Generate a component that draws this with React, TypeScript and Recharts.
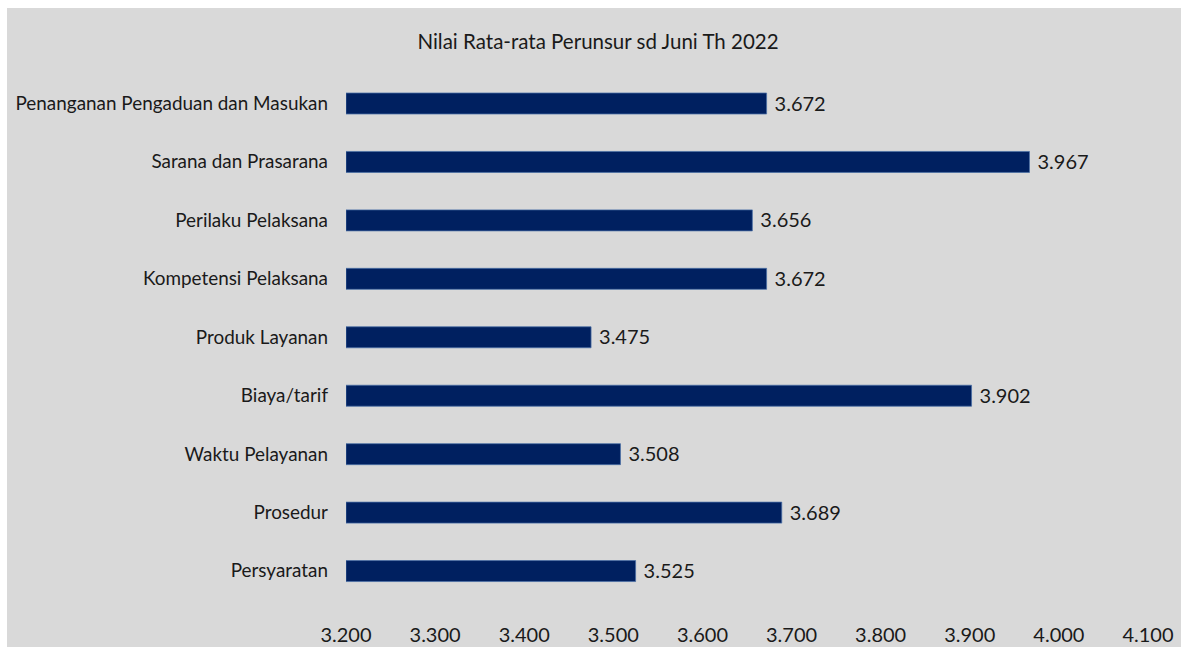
import { Bar, BarChart, LabelList, XAxis, YAxis } from "recharts";

const categories = [
  "Penanganan Pengaduan dan Masukan",
  "Sarana dan Prasarana",
  "Perilaku Pelaksana",
  "Kompetensi Pelaksana",
  "Produk Layanan",
  "Biaya/tarif",
  "Waktu Pelayanan",
  "Prosedur",
  "Persyaratan",
];
const values = [3.672, 3.967, 3.656, 3.672, 3.475, 3.902, 3.508, 3.689, 3.525];
const xTicks = [3.2, 3.3, 3.4, 3.5, 3.6, 3.7, 3.8, 3.9, 4.0, 4.1];
const title = "Nilai Rata-rata Perunsur sd Juni Th 2022";

const FONT = "Lato, 'Open Sans', sans-serif";

export default function App() {
  const data = categories.map((name, i) => ({ name, value: values[i] }));

  return (
    <div
      style={{
        position: "fixed",
        left: 7,
        top: 8,
        width: 1174,
        height: 639,
        background: "#d9d9d9",
        fontFamily: FONT,
      }}
    >
      <div
        style={{
          position: "absolute",
          top: 21,
          left: 0,
          width: 1182,
          textAlign: "center",
          fontSize: 20.5,
          color: "#1a1a1a",
        }}
      >
        {title}
      </div>
      <BarChart
        width={1174}
        height={639}
        data={data}
        layout="vertical"
        margin={{ top: 66, right: 33, bottom: 0, left: 0 }}
      >
        <XAxis
          type="number"
          domain={[3.2, 4.1]}
          ticks={xTicks}
          axisLine={false}
          tickLine={false}
          tickSize={0}
          tickMargin={28}
          height={47}
          tickFormatter={(v: number) => v.toFixed(3)}
          tick={{ fontSize: 20, fill: "#1a1a1a", fontFamily: FONT }}
          allowDataOverflow
        />
        <YAxis
          type="category"
          dataKey="name"
          width={339}
          axisLine={false}
          tickLine={false}
          tickSize={0}
          tickMargin={18}
          interval={0}
          tick={{ fontSize: 18.9, fill: "#1a1a1a", fontFamily: FONT }}
        />
        <Bar
          dataKey="value"
          fill="#002060"
          stroke="#4a6fa5"
          strokeWidth={0.75}
          barSize={21}
          isAnimationActive={false}
        >
          <LabelList
            dataKey="value"
            position="right"
            offset={8}
            formatter={(v: number) => v.toFixed(3)}
            style={{ fontSize: 20, fill: "#1a1a1a", fontFamily: FONT }}
          />
        </Bar>
      </BarChart>
    </div>
  );
}
